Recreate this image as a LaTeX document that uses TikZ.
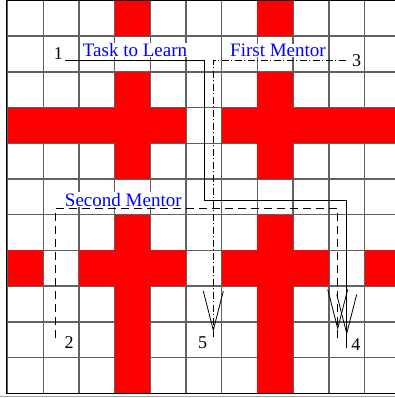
\documentclass[tikz,border=0pt]{standalone}
\usepackage{fontspec}
\setmainfont{Liberation Serif}
\usetikzlibrary{arrows.meta,decorations.markings,calc}
\begin{document}
\begin{tikzpicture}[x=1pt,y=-1pt,
  gridline/.style={line width=1.4pt,draw=black!62},
  redcell/.style={fill=red},
  frameline/.style={line width=1.3pt,draw=black},
  route/.style={line width=0.8pt,draw=black},
  dashroute/.style={route,dash pattern=on 8pt off 5pt},
  dotroute/.style={route,dash pattern=on 7pt off 2.5pt on 1pt off 2.5pt},
  vhead/.style={postaction={decorate},decoration={markings,
     mark=at position -#1 with {\arrow[line width=0.8pt]{Straight Barb[length=39pt,width=20pt]}}}},
  lbl/.style={text=blue,fill=white,inner sep=0.6pt,anchor=base,font=\fontsize{19}{22}\selectfont},
  num/.style={text=black,inner sep=0pt,anchor=base,font=\fontsize{18}{21}\selectfont}
]
\useasboundingbox (0,0) rectangle (395,398);
\clip (0,0) rectangle (395,398);
\fill[white] (0,0) rectangle (395,398);
% grid
\foreach \i in {0,...,11}
  \draw[gridline] ({7.5+35.7*\i},0.5) -- ({7.5+35.7*\i},393.2);
\foreach \j in {0,...,11}
  \draw[gridline] (7.5,{0.5+35.7*\j}) -- (401,{0.5+35.7*\j});
% red cells
\foreach \c/\r in {3/0,7/0,3/2,7/2,0/3,1/3,2/3,3/3,4/3,6/3,7/3,8/3,9/3,10/3,3/4,7/4,
                   3/6,7/6,0/7,2/7,3/7,4/7,6/7,7/7,8/7,10/7,3/8,7/8,3/9,7/9,3/10,7/10}
  \fill[redcell] ({7.5+35.7*\c},{0.5+35.7*\r}) rectangle ++(35.7,35.7);
% frame
\draw[frameline] (401,0.6) -- (6.4,0.6) -- (6.4,393.6) -- (401,393.6);
\draw[line width=0.8pt,draw=black!35] (0,396.2) -- (401,396.2);
% endpoints
\coordinate (s1) at (65,60.7);
\coordinate (e1) at (346.7,348);
\coordinate (s2) at (55.7,338);
\coordinate (e2) at (337.7,340);
\coordinate (s3) at (345.7,60);
\coordinate (e3) at (213.3,337);
% routes
\draw[route,vhead=13pt] (s1) -| (204.3,200) -| (e1);
\draw[dashroute,vhead=10pt] (s2) -- (55.7,208.3) -| (e2);
\draw[dotroute,vhead=5.3pt] (s3) -| (e3);
% labels
\node[lbl] (task) at (135,56.7) {Task to Learn};
\node[lbl] (first) at (278,56.7) {First Mentor};
\node[lbl] (second) at (123.3,206) {Second Mentor};
\node[num] (n1) at (58.3,60) {1};
\node[num] (n2) at (69,348.3) {2};
\node[num] (n3) at (356.5,66.7) {3};
\node[num] (n4) at (355.8,350.7) {4};
\node[num] (n5) at (202.5,348) {5};
\end{tikzpicture}
\end{document}
